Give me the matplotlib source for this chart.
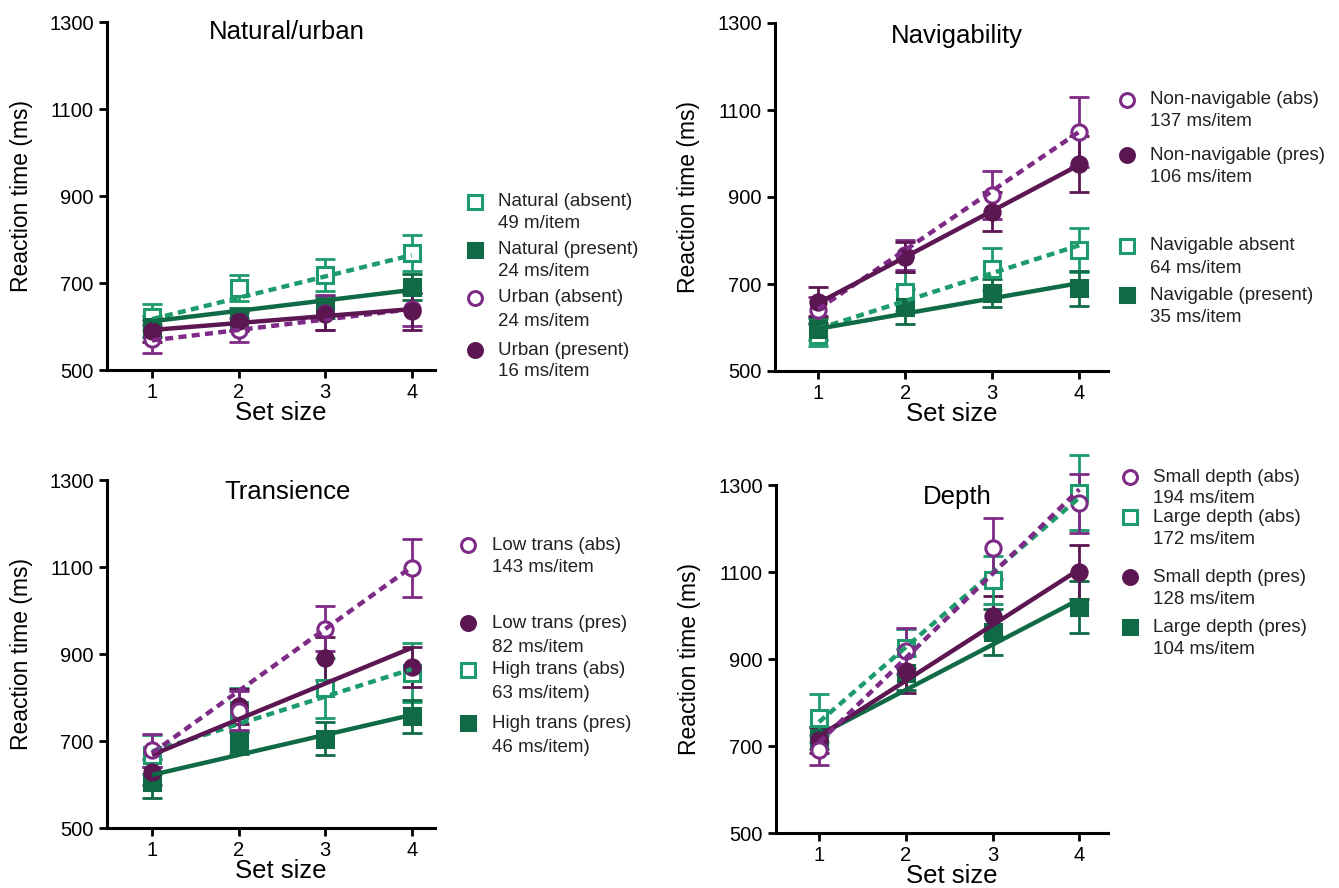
import matplotlib
matplotlib.use("Agg")
import matplotlib.pyplot as plt
from matplotlib.lines import Line2D
import numpy as np

plt.rcParams['font.family'] = ['Liberation Sans', 'DejaVu Sans']

W, H = 1339, 888

set_size = [1, 2, 3, 4]

# colours
GREEN_L = '#1d9b6c'
GREEN_D = '#0f6a45'
PURP_L = '#7e2a87'
PURP_D = '#5c1652'

# --- Natural/urban ---
nat_abs = [622, 688, 718, 769]
nat_abs_err = [30, 30, 37, 42]
nat_abs_fit = [617, 764]
nat_pres = [600, 618, 645, 690]
nat_pres_err = [25, 25, 25, 30]
nat_pres_fit = [612, 684]
urb_abs = [571, 592, 632, 640]
urb_abs_err = [32, 28, 40, 38]
urb_abs_fit = [568, 640]
urb_pres = [590, 612, 628, 635]
urb_pres_err = [25, 22, 35, 42]
urb_pres_fit = [592, 640]

# --- Navigability ---
nonnav_abs = [640, 767, 905, 1050]
nonnav_abs_err = [30, 35, 55, 80]
nonnav_abs_fit = [642, 1050]
nonnav_pres = [659, 762, 866, 976]
nonnav_pres_err = [33, 35, 45, 65]
nonnav_pres_fit = [656, 974]
nav_abs = [583, 682, 735, 778]
nav_abs_err = [25, 45, 48, 50]
nav_abs_fit = [597, 789]
nav_pres = [597, 648, 679, 690]
nav_pres_err = [25, 40, 33, 40]
nav_pres_fit = [597, 702]

# --- Transience ---
low_abs = [679, 770, 958, 1097]
low_abs_err = [38, 45, 52, 67]
low_abs_fit = [672, 1100]
low_pres = [629, 780, 890, 870]
low_pres_err = [30, 40, 50, 45]
low_pres_fit = [668, 914]
high_abs = [668, 771, 822, 857]
high_abs_err = [45, 50, 68, 68]
high_abs_fit = [676, 865]
high_pres = [605, 695, 705, 757]
high_pres_err = [35, 25, 38, 38]
high_pres_fit = [622, 760]

# --- Depth ---
small_abs = [691, 918, 1155, 1258]
small_abs_err = [35, 53, 70, 68]
small_abs_fit = [708, 1290]
large_abs = [764, 925, 1082, 1282]
large_abs_err = [55, 45, 55, 86]
large_abs_fit = [755, 1271]
small_pres = [714, 872, 999, 1100]
small_pres_err = [30, 50, 45, 62]
small_pres_fit = [722, 1106]
large_pres = [718, 868, 962, 1020]
large_pres_err = [25, 40, 52, 60]
large_pres_fit = [725, 1037]

# legend texts
leg1 = ['Natural (absent)', '49 m/item', 'Natural (present)', '24 ms/item',
        'Urban (absent)', '24 ms/item', 'Urban (present)', '16 ms/item']
leg2 = ['Non-navigable (abs)', '137 ms/item', 'Non-navigable (pres)', '106 ms/item',
        'Navigable absent', '64 ms/item', 'Navigable (present)', '35 ms/item']
leg3 = ['Low trans (abs)', '143 ms/item', 'Low trans (pres)', '82 ms/item',
        'High trans (abs)', '63 ms/item)', 'High trans (pres)', '46 ms/item)']
leg4 = ['Small depth (abs)', '194 ms/item', 'Large depth (abs)', '172 ms/item',
        'Small depth (pres)', '128 ms/item', 'Large depth (pres)', '104 ms/item']

# series styles: (colour, marker, filled, dashed)
SQ_OPEN = (GREEN_L, 's', False, True)
SQ_FILL = (GREEN_D, 's', True, False)
CI_OPEN = (PURP_L, 'o', False, True)
CI_FILL = (PURP_D, 'o', True, False)


def px(x, y):
    return x / W, 1 - y / H


def draw_series(ax, means, errs, fit, style):
    col, mk, filled, dashed = style
    ax.errorbar(set_size, means, yerr=errs, fmt='none', ecolor=col,
                elinewidth=2.0, capsize=7, capthick=2.0, clip_on=False, zorder=2)
    ax.plot(set_size, means, linestyle='none', marker=mk, ms=12 if mk == 's' else 11,
            mfc=col if filled else 'white', mec=col, mew=2.2, clip_on=False, zorder=3)
    if dashed:
        ax.plot([1, 4], fit, color=col, lw=3.2, ls=(0, (1.8, 1.2)),
                dash_capstyle='butt', zorder=4)
    else:
        ax.plot([1, 4], fit, color=col, lw=3.2, solid_capstyle='butt', zorder=4)


def setup(ax, title, xlim, title_xy):
    ax.set_xlim(*xlim)
    ax.set_ylim(500, 1300)
    ax.set_xticks(set_size)
    ax.set_yticks([500, 700, 900, 1100, 1300])
    for s in ['top', 'right']:
        ax.spines[s].set_visible(False)
    for s in ['left', 'bottom']:
        ax.spines[s].set_linewidth(2.2)
    ax.tick_params(direction='out', length=5.5, width=2.0, labelsize=14.5, pad=4)
    ax.set_ylabel('Reaction time (ms)', fontsize=16.5)
    ax.yaxis.set_label_coords(-0.225, 0.5)
    ax.set_xlabel('Set size', fontsize=18.5)
    ax.xaxis.set_label_coords(0.53, -0.09)
    ax.text(title_xy[0], title_xy[1], title, transform=ax.transAxes,
            ha='center', va='center', fontsize=18.5)


def legend(fig, labels, styles, mx, tx, ys):
    for i, st in enumerate(styles):
        col, mk, filled, dashed = st
        fx, fy = px(mx, ys[2 * i])
        fig.add_artist(Line2D([fx], [fy], marker=mk, ms=10,
                              mfc=col if filled else 'white', mec=col, mew=2.2,
                              linestyle='none', transform=fig.transFigure))
    for lab, y in zip(labels, ys):
        fx, fy = px(tx, y)
        fig.text(fx, fy, lab, ha='left', va='center', fontsize=13.5, color='#222222')


fig = plt.figure(figsize=(W / 100, H / 100), dpi=100)

ax1 = fig.add_axes([107 / W, 1 - 370 / H, 328 / W, 348 / H])
ax2 = fig.add_axes([775 / W, 1 - 371 / H, 333 / W, 348 / H])
ax3 = fig.add_axes([107 / W, 1 - 828 / H, 328 / W, 348 / H])
ax4 = fig.add_axes([776 / W, 1 - 833 / H, 332 / W, 348 / H])

# panel 1
draw_series(ax1, nat_abs, nat_abs_err, nat_abs_fit, SQ_OPEN)
draw_series(ax1, nat_pres, nat_pres_err, nat_pres_fit, SQ_FILL)
draw_series(ax1, urb_abs, urb_abs_err, urb_abs_fit, CI_OPEN)
draw_series(ax1, urb_pres, urb_pres_err, urb_pres_fit, CI_FILL)
setup(ax1, 'Natural/urban', (0.48, 4.27), (0.549, 0.971))
legend(fig, leg1, [SQ_OPEN, SQ_FILL, CI_OPEN, CI_FILL], 475, 498,
       [202, 223, 250, 272, 298, 322, 350, 372])

# panel 2
draw_series(ax2, nav_abs, nav_abs_err, nav_abs_fit, SQ_OPEN)
draw_series(ax2, nav_pres, nav_pres_err, nav_pres_fit, SQ_FILL)
draw_series(ax2, nonnav_abs, nonnav_abs_err, nonnav_abs_fit, CI_OPEN)
draw_series(ax2, nonnav_pres, nonnav_pres_err, nonnav_pres_fit, CI_FILL)
setup(ax2, 'Navigability', (0.505, 4.33), (0.545, 0.963))
legend(fig, leg2, [CI_OPEN, CI_FILL, SQ_OPEN, SQ_FILL], 1127, 1150,
       [100, 122, 155, 177, 246, 268, 295, 317])

# panel 3
draw_series(ax3, high_abs, high_abs_err, high_abs_fit, SQ_OPEN)
draw_series(ax3, high_pres, high_pres_err, high_pres_fit, SQ_FILL)
draw_series(ax3, low_pres, low_pres_err, low_pres_fit, CI_FILL)
draw_series(ax3, low_abs, low_abs_err, low_abs_fit, CI_OPEN)
setup(ax3, 'Transience', (0.48, 4.27), (0.549, 0.966))
legend(fig, leg3, [CI_OPEN, CI_FILL, SQ_OPEN, SQ_FILL], 468, 492,
       [545, 567, 623, 647, 670, 693, 723, 747])

# panel 4
draw_series(ax4, large_pres, large_pres_err, large_pres_fit, SQ_FILL)
draw_series(ax4, small_pres, small_pres_err, small_pres_fit, CI_FILL)
draw_series(ax4, large_abs, large_abs_err, large_abs_fit, SQ_OPEN)
draw_series(ax4, small_abs, small_abs_err, small_abs_fit, CI_OPEN)
setup(ax4, 'Depth', (0.505, 4.33), (0.545, 0.966))
legend(fig, leg4, [CI_OPEN, SQ_OPEN, CI_FILL, SQ_FILL], 1130, 1153,
       [477, 498, 517, 540, 577, 600, 627, 650])

fig.savefig('out.png', dpi=100)
